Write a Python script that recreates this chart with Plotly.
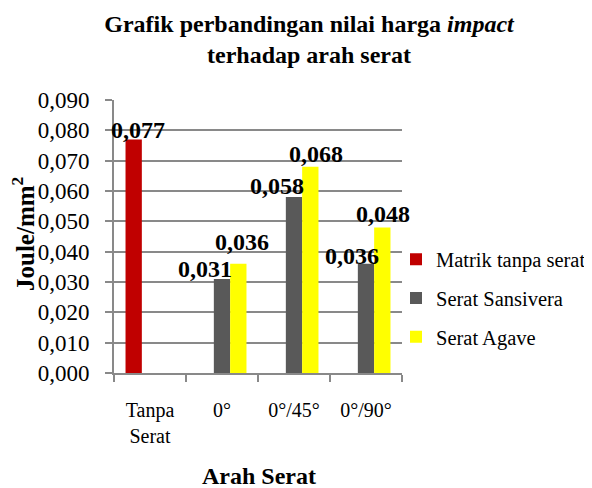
import plotly.graph_objects as go

# ---- data ----
categories = ["Tanpa<br>Serat", "0°", "0°/45°", "0°/90°"]
series_names = ["Matrik tanpa serat", "Serat Sansivera", "Serat Agave"]
matrik = [0.077, None, None, None]
sansivera = [None, 0.031, 0.058, 0.036]
agave = [None, 0.036, 0.068, 0.048]
label_texts_matrik = ["0,077", None, None, None]
label_texts_sansivera = [None, "0,031", "0,058", "0,036"]
label_texts_agave = [None, "0,036", "0,068", "0,048"]

# ---- style ----
OFF = 8  # page body margin offset
W, H = 592 - OFF, 488 - OFF
ML, MT = 114 - OFF, 100 - OFF
MR, MB = W - (402 - OFF), H - (373 - OFF)
BARGAP = 0.32
colors = ["#C00000", "#595959", "#FFFF00"]
FONT = "Liberation Serif"
GRID = "#898989"
# per-point label nudges (pixels) for each series
lab_dx = [[4, 0, 0, 0], [0, -17, -17, -14], [0, 4, 6, 1]]
lab_dy = [[-6, 0, 0, 0], [0, -5, -4, -7], [0, 7, -2, -2]]

series = [matrik, sansivera, agave]
labels = [label_texts_matrik, label_texts_sansivera, label_texts_agave]

fig = go.Figure()
for name, vals, col in zip(series_names, series, colors):
    fig.add_trace(go.Bar(
        x=categories, y=vals, name=name, marker_color=col,
        marker_line_width=0, legendgroup=name,
    ))

plot_w = W - ML - MR
plot_h = H - MT - MB
cat_w = plot_w / len(categories)
bar_w = cat_w * (1 - BARGAP) / len(series)


def py(page_y):
    return (H - MB - (page_y - OFF)) / plot_h


def pxx(page_x):
    return ((page_x - OFF) - ML) / plot_w


annotations = []
for si, (vals, labs) in enumerate(zip(series, labels)):
    for ci, (v, t) in enumerate(zip(vals, labs)):
        if v is None:
            continue
        annotations.append(dict(
            x=categories[ci], y=v, xref="x", yref="y", text="<b>%s</b>" % t,
            showarrow=False, xanchor="center", yanchor="bottom",
            xshift=(si - 1) * bar_w + lab_dx[si][ci], yshift=lab_dy[si][ci],
            font=dict(family=FONT, size=24, color="black"),
        ))

annotations.append(dict(
    text="<b>Joule/mm<sup>2</sup></b>", textangle=-90, showarrow=False,
    xref="paper", yref="paper", x=pxx(23), y=py(234),
    xanchor="center", yanchor="middle",
    font=dict(family=FONT, size=25, color="black"),
))
annotations.append(dict(
    text="<b>Arah Serat</b>", showarrow=False,
    xref="paper", yref="paper", x=pxx(259), y=py(476),
    xanchor="center", yanchor="middle",
    font=dict(family=FONT, size=24, color="black"),
))

fig.update_layout(
    width=W, height=H,
    margin=dict(l=ML, r=MR, t=MT, b=MB, pad=0, autoexpand=False),
    paper_bgcolor="white", plot_bgcolor="white",
    barmode="group", bargap=BARGAP, bargroupgap=0,
    separators=", ",
    font=dict(family=FONT, color="black"),
    title=dict(
        text="<b>Grafik perbandingan nilai harga <i>impact</i><br>terhadap arah serat</b>",
        x=(309 - OFF) / W, xanchor="center", xref="container",
        y=1 - 24 / H, yanchor="top", yref="container",
        font=dict(family=FONT, size=24, color="black"),
    ),
    legend=dict(
        x=pxx(396), y=py(298), xanchor="left", yanchor="middle",
        font=dict(family=FONT, size=20.5, color="black"),
        traceorder="grouped", tracegroupgap=9,
        bgcolor="rgba(0,0,0,0)",
    ),
    annotations=annotations,
)
fig.update_xaxes(
    type="category", range=[-0.5, len(categories) - 0.5], autorange=False,
    showgrid=False, showline=True, linecolor=GRID, linewidth=2,
    ticks="outside", tickson="boundaries", ticklen=7, tickcolor=GRID, tickwidth=2,
    tickangle=0, automargin=False,
    tickfont=dict(family=FONT, size=20, color="black"), ticklabelstandoff=18,
)
fig.update_yaxes(
    range=[0, 0.09], autorange=False, dtick=0.01, tick0=0, tickformat=".3f",
    showgrid=True, gridcolor=GRID, gridwidth=2,
    showline=True, linecolor=GRID, linewidth=2, automargin=False,
    ticks="outside", ticklen=7, tickcolor=GRID, tickwidth=2,
    tickfont=dict(family=FONT, size=23, color="black"), ticklabelstandoff=11,
    zeroline=False,
)

fig.write_html("out.html")
